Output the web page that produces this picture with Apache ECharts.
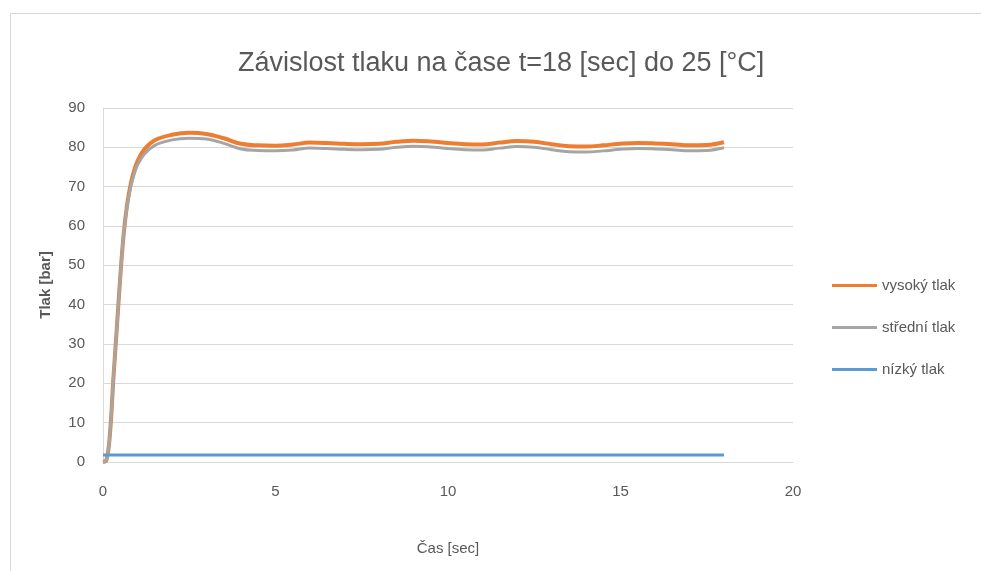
<!DOCTYPE html>
<html>
<head>
<meta charset="utf-8">
<script src="https://cdn.jsdelivr.net/npm/echarts@6/dist/echarts.min.js"></script>
<style>
html,body{margin:0;padding:0;background:#fff;}
#chart{width:981px;height:571px;}
</style>
</head>
<body>
<div id="chart"></div>
<script>
var FONT = "'Liberation Sans Narrow', 'Liberation Sans', sans-serif";
var titleText = 'Závislost tlaku na čase t=18 [sec] do 25 [°C]';
var seriesNames = ['vysoký tlak', 'střední tlak', 'nízký tlak'];
var xTicks = [0, 5, 10, 15, 20];
var yTicks = [0, 10, 20, 30, 40, 50, 60, 70, 80, 90];

var timeHigh = [0, 0.1, 0.2, 0.3, 0.4, 0.5, 0.6, 0.7, 0.8, 0.9, 1.0, 1.2, 1.5, 2.0, 2.5, 3.0, 3.5, 4.0, 4.5, 5.0, 5.5, 6.0, 6.5, 7.0, 7.5, 8.0, 8.5, 9.0, 9.5, 10.0, 10.5, 11.0, 11.5, 12.0, 12.5, 13.0, 13.5, 14.0, 14.5, 15.0, 15.5, 16.0, 16.5, 17.0, 17.5, 18.0];
var highValues = [0, 0.5, 7, 21, 34, 47, 58, 65.5, 70.5, 74, 76.5, 79.5, 81.8, 83.2, 83.7, 83.4, 82.3, 80.9, 80.5, 80.4, 80.7, 81.2, 81.1, 80.9, 80.8, 80.9, 81.4, 81.7, 81.5, 81.1, 80.8, 80.7, 81.2, 81.6, 81.4, 80.8, 80.3, 80.2, 80.5, 80.9, 81.1, 81.0, 80.8, 80.5, 80.6, 81.3];
var midValues = [0, 0.5, 7, 21, 34, 47, 58, 65, 69.8, 73, 75.5, 78.3, 80.5, 81.9, 82.3, 82.1, 81.0, 79.6, 79.2, 79.1, 79.3, 79.8, 79.7, 79.5, 79.4, 79.5, 80.0, 80.3, 80.1, 79.7, 79.4, 79.3, 79.8, 80.2, 80.0, 79.4, 78.9, 78.8, 79.1, 79.5, 79.7, 79.6, 79.4, 79.1, 79.2, 79.9];
var timeLow = [0, 18];
var lowValues = [1.8, 1.8];

function pairs(xs, ys) {
  var out = [];
  for (var i = 0; i < xs.length; i++) out.push([xs[i], ys[i]]);
  return out;
}

var chart = echarts.init(document.getElementById('chart'));
chart.setOption({
  backgroundColor: '#ffffff',
  animation: false,
  graphic: [{
    type: 'rect', left: 8, top: 11, z: -1,
    shape: { width: 1000, height: 600 },
    style: { fill: 'none', stroke: '#d9d9d9', lineWidth: 1 }
  }],
  title: {
    text: titleText,
    left: 233, top: 45,
    textStyle: { fontFamily: FONT, fontSize: 27, fontWeight: 'normal', color: '#595959' }
  },
  legend: {
    orient: 'vertical',
    left: 832, top: 278,
    padding: 0,
    itemGap: 27,
    itemWidth: 45, itemHeight: 3,
    icon: 'rect',
    textStyle: { fontFamily: FONT, fontSize: 15, color: '#595959' },
    data: seriesNames
  },
  grid: { left: 103, right: 188, top: 108, bottom: 109, containLabel: false },
  xAxis: {
    type: 'value', min: xTicks[0], max: xTicks[xTicks.length - 1], interval: 5,
    name: 'Čas [sec]', nameLocation: 'middle', nameGap: 79,
    nameTextStyle: { fontFamily: FONT, fontSize: 15, color: '#595959' },
    axisLine: { show: true, lineStyle: { color: '#d9d9d9', width: 1 } },
    axisTick: { show: false },
    splitLine: { show: false },
    axisLabel: { fontFamily: FONT, fontSize: 15, color: '#595959', margin: 22 }
  },
  yAxis: {
    type: 'value', min: yTicks[0], max: yTicks[yTicks.length - 1], interval: 10,
    name: 'Tlak [bar]', nameLocation: 'middle', nameGap: 50,
    nameTextStyle: { fontFamily: FONT, fontSize: 15, fontWeight: 'bold', color: '#595959' },
    axisLine: { show: true, lineStyle: { color: '#d9d9d9', width: 1 } },
    axisTick: { show: false },
    splitLine: { show: true, lineStyle: { color: '#d9d9d9', width: 1 } },
    axisLabel: { fontFamily: FONT, fontSize: 15, color: '#595959', margin: 18 }
  },
  series: [
    { name: seriesNames[0], type: 'line', data: pairs(timeHigh, highValues), smooth: 0.4, showSymbol: false,
      lineStyle: { color: '#ED7D31', width: 4 }, itemStyle: { color: '#ED7D31' } },
    { name: seriesNames[1], type: 'line', data: pairs(timeHigh, midValues), smooth: 0.4, showSymbol: false,
      lineStyle: { color: '#A5A5A5', width: 3 }, itemStyle: { color: '#A5A5A5' } },
    { name: seriesNames[2], type: 'line', data: pairs(timeLow, lowValues), showSymbol: false,
      lineStyle: { color: '#5B9BD5', width: 3 }, itemStyle: { color: '#5B9BD5' } }
  ]
});
</script>
</body>
</html>
